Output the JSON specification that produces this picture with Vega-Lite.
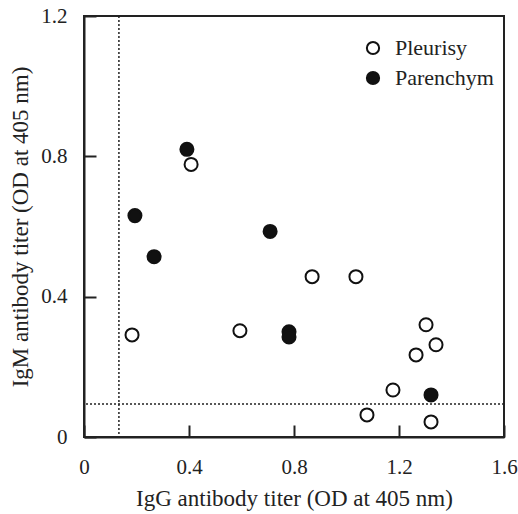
{
  "$schema": "https://vega.github.io/schema/vega-lite/v6.json",
  "width": 420,
  "height": 421,
  "autosize": "none",
  "padding": {"left": 84, "top": 16, "right": 14, "bottom": 77},
  "background": "white",
  "config": {
    "view": {"stroke": "#222", "strokeWidth": 2},
    "font": "Liberation Serif",
    "style": {
      "guide-label": {"font": "Liberation Serif", "fontSize": 21, "fill": "#222"},
      "guide-title": {"font": "Liberation Serif", "fontSize": 23, "fill": "#222", "fontWeight": "normal"}
    },
    "axis": {
      "domainColor": "#222", "domainWidth": 2,
      "tickColor": "#222", "tickWidth": 2, "tickSize": -12,
      "grid": false,
      "labelFont": "Liberation Serif", "labelFontSize": 21, "labelColor": "#222",
      "labelFlush": false, "labelOverlap": false,
      "titleFont": "Liberation Serif", "titleFontSize": 23, "titleFontWeight": "normal", "titleColor": "#222"
    },
    "legend": {"labelFont": "Liberation Serif", "labelFontSize": 22, "labelColor": "#222"}
  },
  "datasets": {
    "points": [
      {"igg": 0.183, "igm": 0.291, "group": "Pleurisy"},
      {"igg": 0.594, "igm": 0.303, "group": "Pleurisy"},
      {"igg": 0.869, "igm": 0.457, "group": "Pleurisy"},
      {"igg": 1.036, "igm": 0.457, "group": "Pleurisy"},
      {"igg": 1.303, "igm": 0.320, "group": "Pleurisy"},
      {"igg": 1.341, "igm": 0.263, "group": "Pleurisy"},
      {"igg": 1.265, "igm": 0.234, "group": "Pleurisy"},
      {"igg": 1.177, "igm": 0.134, "group": "Pleurisy"},
      {"igg": 1.078, "igm": 0.063, "group": "Pleurisy"},
      {"igg": 1.322, "igm": 0.043, "group": "Pleurisy"},
      {"igg": 0.408, "igm": 0.777, "group": "Pleurisy"},
      {"igg": 0.392, "igm": 0.820, "group": "Parenchym"},
      {"igg": 0.194, "igm": 0.631, "group": "Parenchym"},
      {"igg": 0.267, "igm": 0.514, "group": "Parenchym"},
      {"igg": 0.709, "igm": 0.586, "group": "Parenchym"},
      {"igg": 0.781, "igm": 0.300, "group": "Parenchym"},
      {"igg": 0.781, "igm": 0.285, "group": "Parenchym"},
      {"igg": 1.322, "igm": 0.120, "group": "Parenchym"}
    ],
    "vline": [{"igg": 0.133}],
    "hline": [{"igm": 0.094}]
  },
  "layer": [
    {
      "data": {"name": "vline"},
      "mark": {"type": "rule", "color": "#222", "strokeWidth": 1.5, "strokeDash": [2, 2]},
      "encoding": {
        "x": {"field": "igg", "type": "quantitative", "scale": {"domain": [0, 1.6], "nice": false}}
      }
    },
    {
      "data": {"name": "hline"},
      "mark": {"type": "rule", "color": "#222", "strokeWidth": 1.5, "strokeDash": [2, 2]},
      "encoding": {
        "y": {"field": "igm", "type": "quantitative", "scale": {"domain": [0, 1.2], "nice": false}}
      }
    },
    {
      "data": {"name": "points"},
      "mark": {"type": "point", "shape": "circle", "filled": true, "opacity": 1, "size": 170, "stroke": "#111", "strokeWidth": 2},
      "encoding": {
        "x": {
          "field": "igg", "type": "quantitative",
          "scale": {"domain": [0, 1.6], "nice": false},
          "axis": {"values": [0, 0.4, 0.8, 1.2, 1.6], "format": "~g", "labelFont": "Liberation Serif", "labelPadding": 31, "title": "IgG antibody titer (OD at 405 nm)", "titlePadding": 10}
        },
        "y": {
          "field": "igm", "type": "quantitative",
          "scale": {"domain": [0, 1.2], "nice": false},
          "axis": {"values": [0, 0.4, 0.8, 1.2], "format": "~g", "labelFont": "Liberation Serif", "labelPadding": 29, "title": "IgM antibody titer (OD at 405 nm)", "titlePadding": 8}
        },
        "fill": {
          "field": "group", "type": "nominal",
          "scale": {"domain": ["Pleurisy", "Parenchym"], "range": ["white", "#111"]},
          "legend": {
            "title": null, "orient": "none", "legendX": 278, "legendY": 21,
            "labelFont": "Liberation Serif", "labelFontSize": 22, "labelColor": "#222",
            "symbolType": "circle", "symbolSize": 150, "symbolStrokeColor": "#111", "symbolStrokeWidth": 2,
            "labelOffset": 11, "rowPadding": 8
          }
        }
      }
    }
  ]
}
